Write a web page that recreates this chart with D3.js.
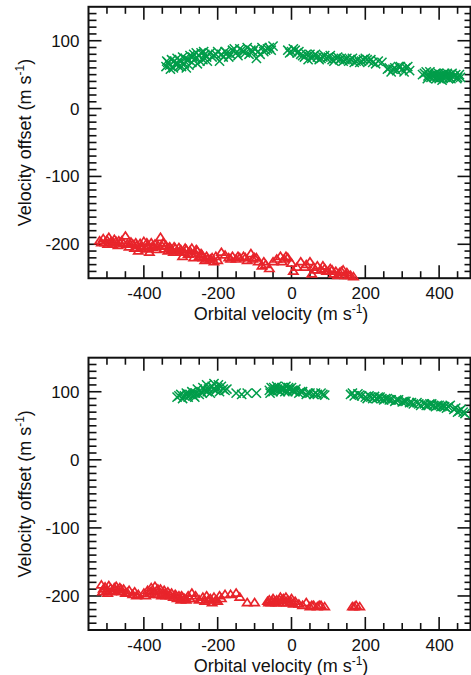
<!DOCTYPE html>
<html><head><meta charset="utf-8">
<script src="https://cdn.jsdelivr.net/npm/d3@7"></script>
<style>body{margin:0;background:#fff}svg{display:block}text{font-family:"Liberation Sans",Arial,sans-serif;fill:#111}</style>
</head><body><svg id="c" width="471" height="675"></svg>
<script>
const xDomain = [-550, 485];
const yDomain = [-250, 150];
const xTickLabels = [-400, -200, 0, 200, 400];
const yTickLabels = [-200, -100, 0, 100];
const xLabel = "Orbital velocity (m s";
const yLabel = "Velocity offset (m s";
const unitSup = "-1";

// Top panel: green crosses (orbital velocity, velocity offset)
const topCrosses = [[-340,62],[-335,68],[-330,64],[-325,72],[-320,60],[-315,66],[-310,74],[-305,62],[-300,70],[-295,76],[-290,66],[-285,60],[-280,72],[-275,78],[-270,68],[-265,80],[-260,74],[-255,66],[-250,78],[-245,82],[-240,72],[-235,80],[-230,76],[-220,82],[-210,78],[-200,84],[-195,70],[-190,80],[-180,84],[-170,76],[-160,86],[-150,82],[-140,88],[-130,84],[-120,90],[-115,80],[-110,86],[-100,88],[-95,74],[-90,84],[-80,90],[-70,86],[-60,90],[-50,92],[-10,86],[0,84],[5,88],[15,82],[25,80],[35,76],[45,72],[50,80],[60,78],[70,76],[80,74],[90,78],[100,76],[110,72],[120,74],[130,72],[140,70],[150,74],[160,72],[170,68],[180,72],[190,70],[200,74],[210,70],[220,68],[235,70],[260,58],[270,54],[280,60],[290,62],[300,58],[310,60],[320,56],[360,52],[370,48],[375,54],[380,50],[385,46],[390,52],[395,48],[400,44],[405,50],[410,46],[415,52],[420,48],[425,44],[430,50],[440,48],[450,46],[455,50],
[-338,70],[-328,58],[-318,70],[-308,66],[-298,62],[-288,74],[-278,64],[-268,76],[-258,82],[-248,70],[-238,84],[-228,70],[-215,76],[-205,80],[-185,76],[-175,82],[-165,80],[-155,88],[-145,78],[-135,86],[-125,82],[-105,84],[-85,80],[-75,84],[-65,88],[-55,86],[-5,82],[10,86],[20,84],[30,78],[40,80],[55,74],[65,80],[75,72],[85,76],[95,74],[105,78],[115,70],[125,76],[135,74],[145,72],[155,70],[165,74],[175,70],[185,68],[195,72],[205,72],[215,72],[228,66],[245,68],[265,60],[275,58],[285,56],[295,62],[305,54],[315,62],[355,50],[365,54],[368,44],[378,46],[388,50],[392,44],[398,52],[402,48],[408,42],[412,50],[418,46],[422,52],[428,46],[432,44],[435,52],[445,50],[448,44],[458,46]];
// Top panel: red triangles
const topTriangles = [[-520,-195],[-510,-192],[-505,-198],[-500,-194],[-495,-190],[-490,-197],[-485,-200],[-480,-193],[-475,-196],[-470,-202],[-465,-198],[-460,-195],[-450,-188],[-445,-200],[-440,-204],[-435,-197],[-430,-200],[-425,-206],[-420,-202],[-415,-210],[-410,-199],[-405,-204],[-400,-196],[-395,-207],[-390,-202],[-385,-212],[-380,-198],[-375,-205],[-370,-200],[-365,-208],[-355,-190],[-350,-203],[-345,-207],[-340,-202],[-335,-210],[-330,-204],[-325,-208],[-320,-212],[-315,-206],[-310,-210],[-305,-205],[-300,-208],[-295,-218],[-290,-212],[-285,-208],[-280,-215],[-275,-210],[-270,-206],[-265,-220],[-260,-214],[-255,-210],[-250,-218],[-245,-214],[-240,-220],[-235,-224],[-230,-218],[-220,-222],[-210,-226],[-200,-224],[-190,-212],[-180,-216],[-170,-220],[-160,-218],[-150,-222],[-140,-220],[-130,-218],[-120,-224],[-110,-214],[-100,-220],[-90,-226],[-80,-232],[-70,-230],[-60,-236],[-50,-226],[-40,-222],[-30,-218],[-20,-222],[-10,-220],[0,-228],[5,-240],[15,-234],[25,-226],[40,-230],[50,-226],[55,-244],[60,-234],[70,-232],[80,-238],[90,-236],[100,-240],[110,-238],[115,-244],[120,-240],[130,-242],[140,-238],[145,-246],[150,-242],[160,-246],[168,-248],
[-515,-198],[-498,-200],[-482,-198],[-468,-195],[-455,-199],[-438,-200],[-422,-198],[-408,-206],[-392,-198],[-378,-204],[-362,-202],[-348,-198],[-332,-206],[-318,-204],[-302,-212],[-288,-206],[-272,-214],[-258,-208],[-242,-216],[-228,-222],[-215,-220],[-205,-218],[-165,-222],[-145,-218],[-125,-220],[-105,-222],[-95,-220],[-75,-226],[-25,-226],[-15,-218],[35,-234],[65,-238],[85,-232],[95,-240],[105,-236],[125,-246],[135,-240],[155,-246]];
// Bottom panel: green crosses
const bottomCrosses = [[-310,92],[-300,96],[-295,90],[-290,94],[-285,98],[-280,92],[-275,96],[-270,100],[-265,94],[-260,98],[-255,104],[-250,96],[-245,100],[-240,106],[-235,102],[-230,110],[-225,104],[-220,98],[-215,108],[-210,112],[-205,102],[-200,106],[-195,100],[-190,108],[-185,104],[-175,104],[-150,98],[-135,96],[-120,98],[-95,98],[-60,102],[-55,106],[-50,100],[-45,104],[-40,108],[-35,102],[-30,100],[-25,106],[-20,104],[-15,108],[-10,100],[-5,104],[0,106],[5,102],[10,100],[20,98],[30,100],[40,96],[50,98],[60,96],[70,96],[80,98],[90,95],[160,96],[170,94],[180,97],[190,94],[200,92],[210,94],[220,90],[225,93],[230,90],[240,92],[250,88],[260,90],[270,88],[280,86],[290,88],[300,85],[310,86],[320,84],[330,82],[340,84],[350,80],[360,82],[370,80],[380,82],[390,78],[400,80],[410,79],[420,76],[430,80],[440,74],[450,70],[460,74],[470,68],
[-305,94],[-282,96],[-262,92],[-242,98],[-228,100],[-212,104],[-198,110],[-180,102],[-58,98],[-48,106],[-38,104],[-28,104],[-18,100],[-8,106],[2,102],[12,104],[25,100],[45,98],[65,98],[85,96],[165,98],[185,95],[205,90],[215,92],[235,92],[245,90],[255,90],[265,88],[285,88],[305,86],[325,84],[345,82],[365,80],[375,82],[385,80],[395,80],[405,78],[415,78],[425,78],[445,76],[455,72],[465,70]];
// Bottom panel: red triangles
const bottomTriangles = [[-515,-184],[-510,-190],[-505,-187],[-500,-192],[-495,-185],[-490,-189],[-485,-193],[-480,-188],[-475,-186],[-470,-191],[-465,-188],[-460,-194],[-455,-190],[-445,-195],[-440,-192],[-430,-198],[-425,-194],[-415,-198],[-400,-196],[-395,-200],[-390,-192],[-385,-197],[-380,-188],[-375,-194],[-370,-186],[-365,-192],[-360,-198],[-355,-190],[-350,-196],[-345,-192],[-340,-200],[-335,-194],[-330,-198],[-325,-196],[-320,-202],[-315,-198],[-310,-204],[-305,-200],[-300,-206],[-295,-202],[-290,-204],[-285,-206],[-280,-200],[-275,-204],[-270,-196],[-265,-204],[-260,-200],[-250,-206],[-240,-202],[-235,-208],[-230,-200],[-225,-206],[-220,-204],[-215,-210],[-210,-202],[-205,-206],[-200,-208],[-195,-200],[-190,-204],[-180,-198],[-165,-198],[-150,-196],[-140,-202],[-120,-210],[-100,-210],[-65,-208],[-60,-206],[-55,-210],[-50,-204],[-45,-208],[-40,-206],[-35,-210],[-30,-202],[-25,-206],[-20,-210],[-15,-202],[-10,-206],[-5,-210],[0,-204],[5,-212],[10,-208],[20,-212],[30,-214],[40,-210],[50,-216],[60,-214],[70,-216],[80,-214],[90,-216],[165,-216],[175,-214],[185,-216],
[-512,-194],[-498,-196],[-488,-194],[-478,-192],[-462,-190],[-450,-196],[-420,-200],[-382,-194],[-372,-198],[-362,-190],[-352,-200],[-342,-196],[-328,-200],[-312,-200],[-298,-200],[-62,-210],[-52,-208],[-42,-210],[-32,-206],[-22,-204],[-12,-210],[-2,-208],[55,-214],[75,-214],[170,-216]];

const green = "#009d4a", red = "#e8242b";
const svg = d3.select("#c");
const fmt = d => String(d);

function panel(top, bottom, crosses, tris) {
  const x = d3.scaleLinear().domain(xDomain).range([88.5, 470.5]);
  const y = d3.scaleLinear().domain(yDomain).range([bottom, top]);
  const g = svg.append("g");
  const xMinor = d3.range(-550, 486, 50);
  const yMinor = d3.range(-250, 151, 10);
  const bottomAx = d3.axisBottom(x).tickValues(xTickLabels).tickFormat(fmt).tickSize(0).tickPadding(9);
  const xa = g.append("g").attr("transform", `translate(0,${bottom})`).call(bottomAx);
  xa.select(".domain").remove();
  xa.selectAll("text").attr("font-size", 17).attr("font-family", "Liberation Sans, Arial, sans-serif").attr("fill", "#111");
  const leftAx = d3.axisLeft(y).tickValues(yTickLabels).tickFormat(fmt).tickSize(0).tickPadding(9);
  const ya = g.append("g").attr("transform", `translate(88.5,0)`).call(leftAx);
  ya.select(".domain").remove();
  ya.selectAll("text").attr("font-size", 17).attr("font-family", "Liberation Sans, Arial, sans-serif").attr("fill", "#111");

  const tk = g.append("g").attr("stroke", "#111").attr("stroke-width", 1.6);
  xMinor.forEach(v => {
    if (v <= xDomain[0]) return;
    const len = v % 200 === 0 ? 13 : 7;
    tk.append("line").attr("x1", x(v)).attr("x2", x(v)).attr("y1", bottom).attr("y2", bottom - len);
    tk.append("line").attr("x1", x(v)).attr("x2", x(v)).attr("y1", top).attr("y2", top + len);
  });
  yMinor.forEach(v => {
    if (v <= yDomain[0] || v >= yDomain[1]) return;
    const major = v % 100 === 0;
    tk.append("line").attr("y1", y(v)).attr("y2", y(v)).attr("x1", 88.5).attr("x2", 88.5 + (major ? 13 : 8));
    tk.append("line").attr("y1", y(v)).attr("y2", y(v)).attr("x1", 470.5).attr("x2", 470.5 - (major ? 13 : 6));
  });
  g.append("rect").attr("x", 88.5).attr("y", top).attr("width", 382).attr("height", bottom - top)
    .attr("fill", "none").attr("stroke", "#111").attr("stroke-width", 2);

  const s = 4.6;
  g.append("g").selectAll("path").data(crosses).join("path")
    .attr("transform", d => `translate(${x(d[0])},${y(d[1])})`)
    .attr("d", `M${-s},${-s}L${s},${s}M${-s},${s}L${s},${-s}`)
    .attr("stroke", green).attr("stroke-width", 1.5).attr("fill", "none");
  const w = 4.6, h = 7;
  g.append("g").selectAll("path").data(tris).join("path")
    .attr("transform", d => `translate(${x(d[0])},${y(d[1])})`)
    .attr("d", `M0,${-h*0.6}L${w},${h*0.4}L${-w},${h*0.4}Z`)
    .attr("stroke", red).attr("stroke-width", 1.7).attr("fill", "none");

  const xl = g.append("text").attr("x", 281).attr("y", bottom + 42).attr("text-anchor", "middle").attr("font-size", 18);
  xl.append("tspan").text(xLabel);
  xl.append("tspan").attr("dy", -7).attr("font-size", 12).text(unitSup);
  xl.append("tspan").attr("dy", 7).text(")");
  const yl = g.append("text").attr("transform", `translate(31,${(top + bottom) / 2}) rotate(-90)`).attr("text-anchor", "middle").attr("font-size", 18);
  yl.append("tspan").text(yLabel);
  yl.append("tspan").attr("dy", -7).attr("font-size", 12).text(unitSup);
  yl.append("tspan").attr("dy", 7).text(")");
}
panel(6.8, 278.2, topCrosses, topTriangles);
panel(357.7, 630, bottomCrosses, bottomTriangles);
</script></body></html>
